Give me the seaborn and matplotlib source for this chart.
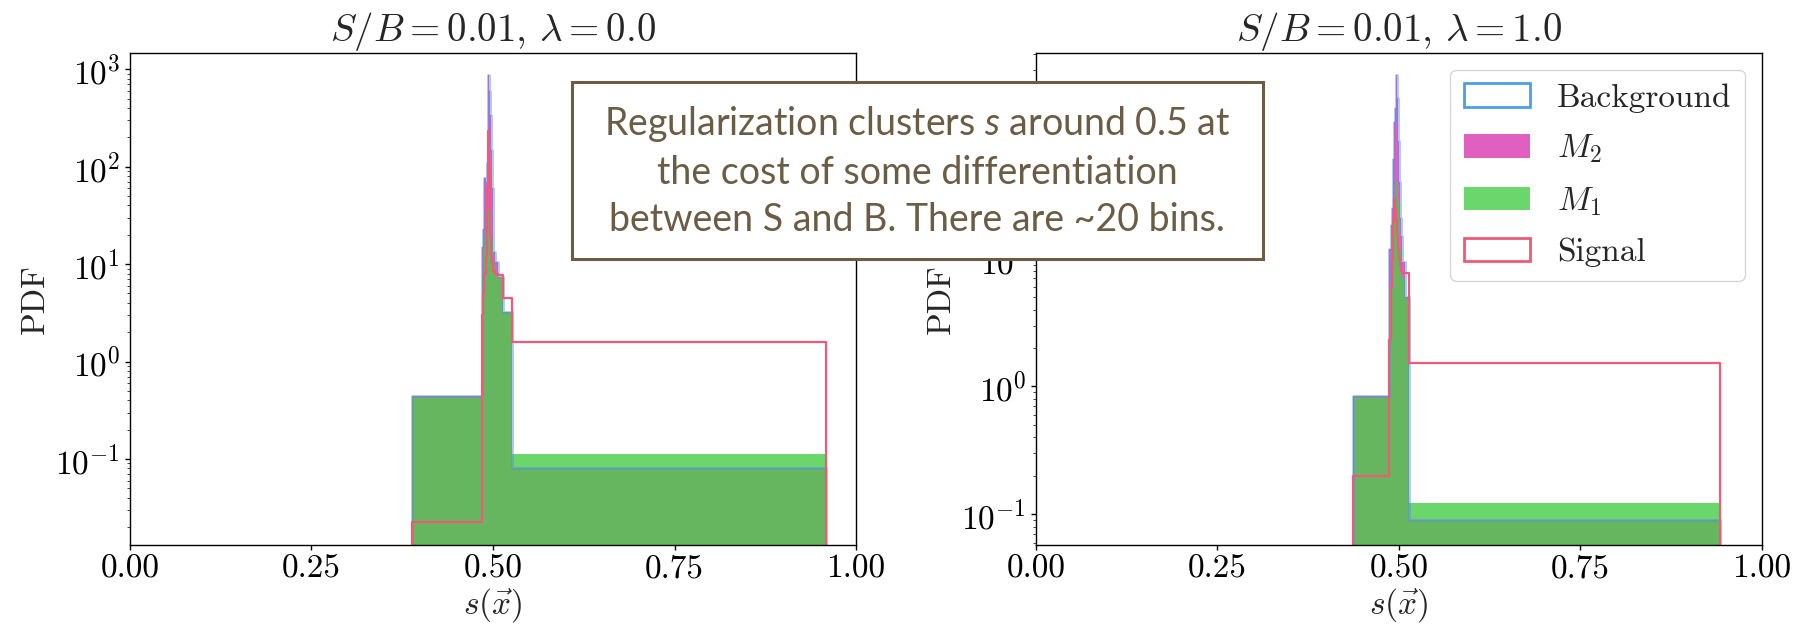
import numpy as np
import seaborn as sns
import matplotlib.pyplot as plt
from matplotlib.patches import Patch, Rectangle
from matplotlib.ticker import FormatStrFormatter

# bin edges in s(x) and densities per bin
edges_l = [0.388, 0.4850, 0.4862, 0.4878, 0.4900, 0.4915, 0.4927, 0.4942, 0.4959,
           0.4970, 0.4982, 0.4995, 0.5005, 0.5028, 0.5073, 0.5142, 0.5257, 0.958]
bkg_l = [0.44, 15, 23, 76, 70, 110, 870, 600, 340, 150, 60, 39, 13.4, 10.6, 7.4, 3.25, 0.0805]
m2_l = [0.44, 15, 23, 76, 70, 110, 870, 600, 340, 150, 60, 39, 13.4, 10.6, 7.4, 3.25, 0.0815]
m1_l = [0.43, 8, 12, 20, 25, 30, 36, 34, 28, 22, 18, 14, 10, 8, 7.2, 3.2, 0.113]
sig_l = [0.0227, 3, 5, 8, 12, 60, 230, 100, 20, 12, 10, 9, 8.5, 8, 7.8, 4.5, 1.57]

edges_r = [0.437, 0.4870, 0.4888, 0.4902, 0.4915, 0.4925, 0.4935, 0.4948, 0.4961,
           0.4975, 0.4988, 0.5002, 0.5016, 0.5032, 0.5048, 0.5085, 0.5135, 0.9425]
bkg_r = [0.84, 12, 18.5, 25, 54, 60, 118, 150, 274, 180, 83, 40, 21, 15, 9.5, 5, 0.090]
m2_r = [0.84, 12, 18.5, 25, 54, 60, 118, 150, 274, 180, 83, 40, 21, 15, 9.5, 5, 0.091]
m1_r = [0.82, 6, 8, 12, 18, 22, 30, 36, 40, 36, 28, 20, 12, 10, 7, 5, 0.123]
sig_r = [0.20, 2.3, 6, 10, 15, 20, 30, 25, 20, 15, 12, 10, 9, 8, 7.7, 7.7, 1.53]

titles = [r"$S/B = 0.01$, $\lambda = 0.0$", r"$S/B = 0.01$, $\lambda = 1.0$"]
ylims = [(0.0131, 1470), (0.0575, 407)]

c_bkg = "#4a9fe8"
c_bkg_line = (0.36, 0.55, 0.90, 0.5)
c_m2 = "#e060c0"
c_m1 = (0.275, 0.8, 0.275, 0.8)
c_sig = "#f05a78"
c_note = "#6b5c45"
clear = (1, 1, 1, 0)

sns.set_style("ticks")
plt.rcParams["font.family"] = ["cmr10"]
plt.rcParams["mathtext.fontset"] = "cm"
plt.rcParams["axes.formatter.use_mathtext"] = True
plt.rcParams["font.size"] = 24
plt.rcParams["mathtext.it"] = "Lato:italic"
plt.rcParams["mathtext.rm"] = "Lato"

fig = plt.figure(figsize=(17.95, 6.27), dpi=100)
ax_l = fig.add_axes([0.0724, 0.1308, 0.4045, 0.7847])
ax_r = fig.add_axes([0.5772, 0.1308, 0.4042, 0.7847])

panels = [(ax_l, edges_l, bkg_l, m2_l, m1_l, sig_l),
          (ax_r, edges_r, bkg_r, m2_r, m1_r, sig_r)]

for i, (ax, edges, bkg, m2, m1, sig) in enumerate(panels):
    ax.set_yscale("log")
    left = edges[:-1]
    sns.histplot(x=left, weights=m2, bins=edges, element="step", fill=True, color=c_m2,
                 facecolor=c_m2, edgecolor=clear, linewidth=0, ax=ax)
    sns.histplot(x=left, weights=m1, bins=edges, element="step", fill=True, color=c_m1[:3],
                 facecolor=c_m1, edgecolor=clear, linewidth=0, ax=ax)
    sns.histplot(x=left, weights=bkg, bins=edges, element="step", fill=True, color=c_bkg,
                 facecolor=clear, edgecolor=c_bkg_line, linewidth=2, ax=ax)
    sns.histplot(x=left, weights=sig, bins=edges, element="step", fill=True, color=c_sig,
                 facecolor=clear, edgecolor=c_sig, linewidth=1.6, ax=ax)
    ax.set_xlim(0, 1)
    ax.set_ylim(*ylims[i])
    ax.set_xticks([0, 0.25, 0.5, 0.75, 1.0])
    ax.xaxis.set_major_formatter(FormatStrFormatter("%.2f"))
    ax.set_xlabel(r"$s(\vec{x})$", labelpad=2)
    ax.set_ylabel("PDF", labelpad=4)
    ax.set_title(titles[i], fontsize=28, pad=4)
    for sp in ax.spines.values():
        sp.set_color("black")
        sp.set_linewidth(1.0)
    ax.tick_params(colors="black", width=1.0)

handles = [Patch(facecolor=clear, edgecolor=c_bkg, linewidth=2, label="Background"),
           Patch(facecolor=c_m2, edgecolor=clear, label=r"$M_2$"),
           Patch(facecolor=c_m1, edgecolor=clear, label=r"$M_1$"),
           Patch(facecolor=clear, edgecolor=c_sig, linewidth=2, label="Signal")]
ax_r.legend(handles=handles, loc="upper right", fontsize=24, labelspacing=0.6)

# callout box laid over both panels
fig.patches.append(Rectangle((0.3187, 0.5869), 0.385, 0.2823, transform=fig.transFigure,
                             facecolor="white", edgecolor=c_note, linewidth=2.2, zorder=5))
fig.text(0.5111, 0.728,
         "Regularization clusters $s$ around 0.5 at\n"
         "the cost of some differentiation\n"
         "between S and B. There are ~20 bins.",
         ha="center", va="center", family="Lato", fontsize=27,
         color=c_note, linespacing=1.38, math_fontfamily="custom", zorder=6)

fig.savefig("out.png", dpi=100)
